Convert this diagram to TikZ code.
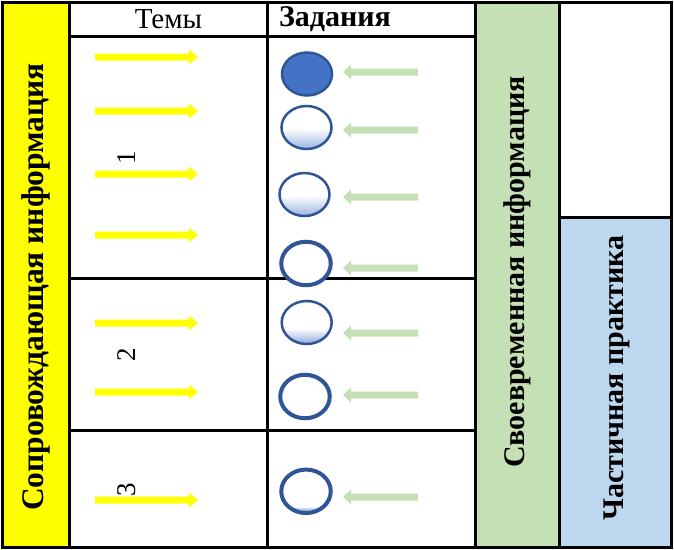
\documentclass[tikz,border=0pt]{standalone}
\usepackage{fontspec}
\setmainfont{Liberation Serif}
\usetikzlibrary{shapes.geometric}

\definecolor{colYellow}{HTML}{FFFF00}
\definecolor{colGreen}{HTML}{C5E0B4}
\definecolor{colBlue}{HTML}{BDD7EE}
\definecolor{ovalFill}{HTML}{4472C4}
\definecolor{ovalLine}{HTML}{2F5597}
\definecolor{ovalLight}{HTML}{A3BAE2}

% vertical shadings: 25bp = bottom of the oval, 75bp = top
\pgfdeclareverticalshading{halfshade}{100bp}{color(0bp)=(ovalLight); color(27bp)=(ovalLight); color(49bp)=(white); color(100bp)=(white)}
\pgfdeclareverticalshading{lowshade}{100bp}{color(0bp)=(ovalLight); color(29bp)=(ovalLight); color(43bp)=(white); color(100bp)=(white)}
\pgfdeclareverticalshading{rimshade}{100bp}{color(0bp)=(ovalLight); color(29bp)=(ovalLight); color(32.5bp)=(white); color(100bp)=(white)}

\tikzset{
  grid/.style={line width=3pt, line cap=rect},
  txt/.style={font=\fontsize{27}{30}\selectfont, inner sep=0pt},
  btxt/.style={inner sep=0pt, font=\fontsize{30}{33}\selectfont\bfseries},
  vtxt/.style={btxt, rotate=90},
  oval/.style={ellipse, draw=ovalLine, inner sep=0pt, line width=2.5pt,
    minimum width=50pt, minimum height=43pt},
  ovalthick/.style={oval, line width=4pt, minimum width=49.5pt, minimum height=43.5pt},
  tema/.pic={\fill[colYellow] (-51.5,-3.5) -- (42.5,-3.5) -- (42.5,-7.5) -- (51.5,0)
      -- (42.5,7.5) -- (42.5,3.5) -- (-51.5,3.5) -- cycle;},
  zadanie/.pic={\fill[colGreen] (37.5,-3.5) -- (-29.5,-3.5) -- (-29.5,-7.5) -- (-37.5,0)
      -- (-29.5,7.5) -- (-29.5,3.5) -- (37.5,3.5) -- cycle;}
}

\begin{document}
\begin{tikzpicture}[x=1pt, y=-1pt]
\useasboundingbox (0,0) rectangle (674,549);

% coloured columns
\fill[colYellow] (2,2) rectangle (69.5,548);
\fill[colGreen] (475,2) rectangle (559,548);
\fill[colBlue] (559,217) rectangle (672,548);

% table rules
\draw[grid] (2.5,2.5) rectangle (671.5,547.5);
\draw[grid] (69.5,2.5) -- (69.5,547.5);
\draw[grid] (267,2.5) -- (267,547.5);
\draw[grid] (475,2.5) -- (475,547.5);
\draw[grid] (559,2.5) -- (559,547.5);
\draw[grid] (69.5,36) -- (475,36);
\draw[grid] (69.5,278) -- (475,278);
\draw[grid] (69.5,430) -- (475,430);
\draw[grid] (559,217) -- (671.5,217);

% headers
\node[txt, font=\fontsize{29}{32}\selectfont] (hTemy) at (168.5,19) {Темы};
\node[btxt] (hZad) at (335,19.5) {Задания};

% column captions
\node[vtxt, font=\fontsize{31.5}{34}\selectfont\bfseries] (cSoprov) at (36,287) {Сопровождающая информация};
\node[vtxt] (cSvoevr) at (517,272) {Своевременная информация};
\node[vtxt] (cPrakt) at (617,378) {Частичная практика};

% topic numbers
\node[txt, rotate=90] (n1) at (127,158) {1};
\node[txt, rotate=90] (n2) at (127,355) {2};
\node[txt, rotate=90] (n3) at (127,490) {3};

% topic arrows
\foreach \yy in {57,111,174,235,323,392,500}
  \pic at (146.5,\yy) {tema};

% task arrows
\foreach \yy in {72,130,197,268,333,395,497}
  \pic at (380.5,\yy) {zadanie};

% task ovals
\node[oval, fill=ovalFill] (t1) at (307,74) {};
\node[oval, shading=halfshade] (t2) at (306.5,127.5) {};
\node[oval, shading=halfshade] (t3) at (304.5,194.5) {};
\node[ovalthick, fill=white] (t4) at (306,263.5) {};
\node[oval, shading=lowshade] (t5) at (306.7,322.5) {};
\node[ovalthick, fill=white] (t6) at (305,396.5) {};
\node[ovalthick, shading=rimshade] (t7) at (306,491.3) {};
\end{tikzpicture}
\end{document}
